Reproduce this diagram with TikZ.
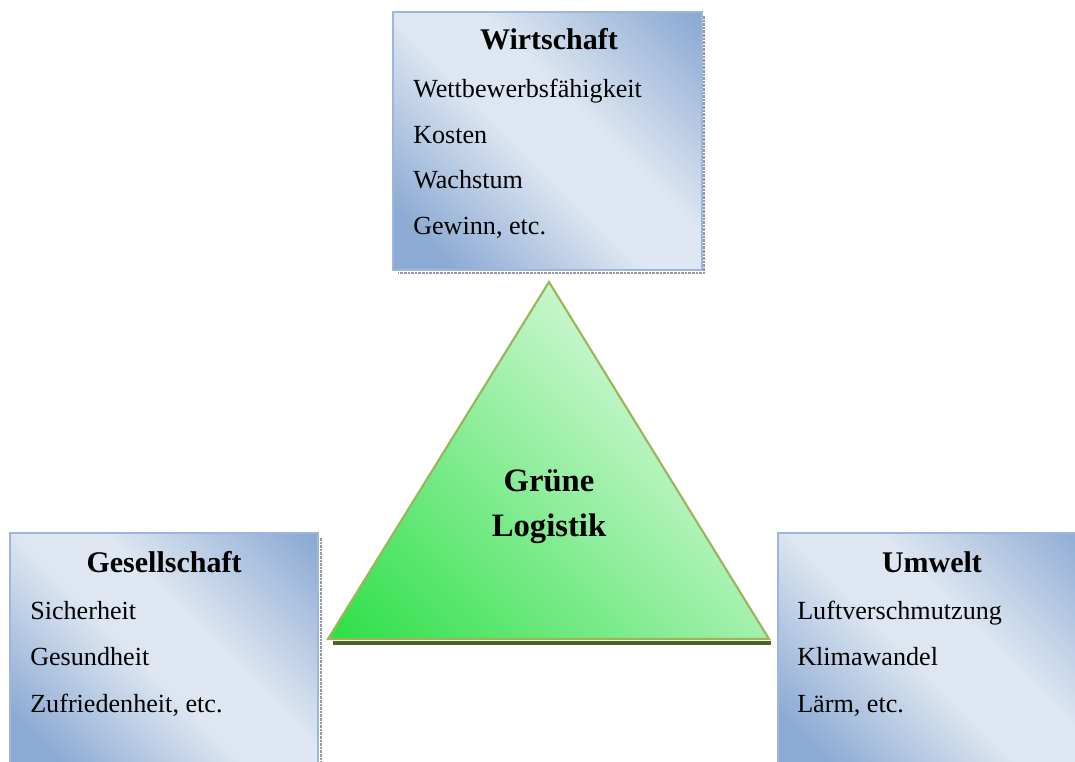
\documentclass[tikz,border=0pt]{standalone}
\usepackage{fontspec}
\setmainfont{Liberation Serif}
\definecolor{bdark}{HTML}{8CAAD3}
\definecolor{blight}{HTML}{DDE6F1}
\definecolor{bborder}{HTML}{9CB7DB}
\definecolor{gdark}{HTML}{2ADF45}
\definecolor{glight}{HTML}{C8F6CD}
\definecolor{gborder}{HTML}{9BB55A}
\definecolor{gshadow}{HTML}{4F6228}
\pgfdeclarehorizontalshading{bluebox}{100bp}{color(0bp)=(bdark); color(22bp)=(bdark); color(46bp)=(blight); color(58bp)=(blight); color(84bp)=(bdark); color(100bp)=(bdark)}
\pgfdeclarehorizontalshading{greentri}{100bp}{color(0bp)=(gdark); color(14bp)=(gdark); color(66bp)=(glight); color(100bp)=(glight)}
\tikzset{
  catbox/.style={draw=bborder, line width=1.6pt, shading=bluebox, shading angle=45,
    anchor=north west, inner sep=0pt, outer sep=0pt},
  boxshadow/.style={draw=gray!80, line width=1.8pt, dash pattern=on 2pt off 0.7pt},
  title/.style={font=\fontsize{22.5}{27}\selectfont\bfseries, anchor=base, inner sep=0pt},
  item/.style={font=\fontsize{19.6}{24}\selectfont, anchor=base west, inner sep=0pt},
  center/.style={font=\fontsize{24.5}{29}\selectfont\bfseries, anchor=base, inner sep=0pt},
}
\begin{document}
\begin{tikzpicture}[x=0.75pt,y=-0.75pt]
\useasboundingbox (0,0) rectangle (1075,762);
% shadows
\draw[boxshadow] (704,16) -- (704,273) -- (398,273);
\draw[boxshadow] (321,538) -- (321,765);
% boxes
\node[catbox, minimum width=231.75pt, minimum height=193.5pt] (wbox) at (393,12) {};
\node[catbox, minimum width=231pt, minimum height=180pt] (gbox) at (10,533) {};
\node[catbox, minimum width=240pt, minimum height=180pt] (ubox) at (778,533) {};
% triangle
\draw[gshadow, line width=3pt] (333,643) -- (771,643);
\shade[shading=greentri, shading angle=45, draw=gborder, line width=1.6pt, line join=miter]
  (549,282) -- (769,639) -- (328,639) -- cycle;
% texts
\node[title] (wt) at (549,50) {Wirtschaft};
\node[item] (w1) at (413,98) {Wettbewerbsfähigkeit};
\node[item] (w2) at (413,143.5) {Kosten};
\node[item] (w3) at (413,189) {Wachstum};
\node[item] (w4) at (413,234.5) {Gewinn, etc.};
\node[title] (gt) at (164,573) {Gesellschaft};
\node[item] (g1) at (30,620) {Sicherheit};
\node[item] (g2) at (30,666) {Gesundheit};
\node[item] (g3) at (30,712) {Zufriedenheit, etc.};
\node[title] (ut) at (932,573) {Umwelt};
\node[item] (u1) at (797,620) {Luftverschmutzung};
\node[item] (u2) at (797,666) {Klimawandel};
\node[item] (u3) at (797,712) {Lärm, etc.};
\node[center] (c1) at (549,492) {Grüne};
\node[center] (c2) at (549,537) {Logistik};
\end{tikzpicture}
\end{document}
